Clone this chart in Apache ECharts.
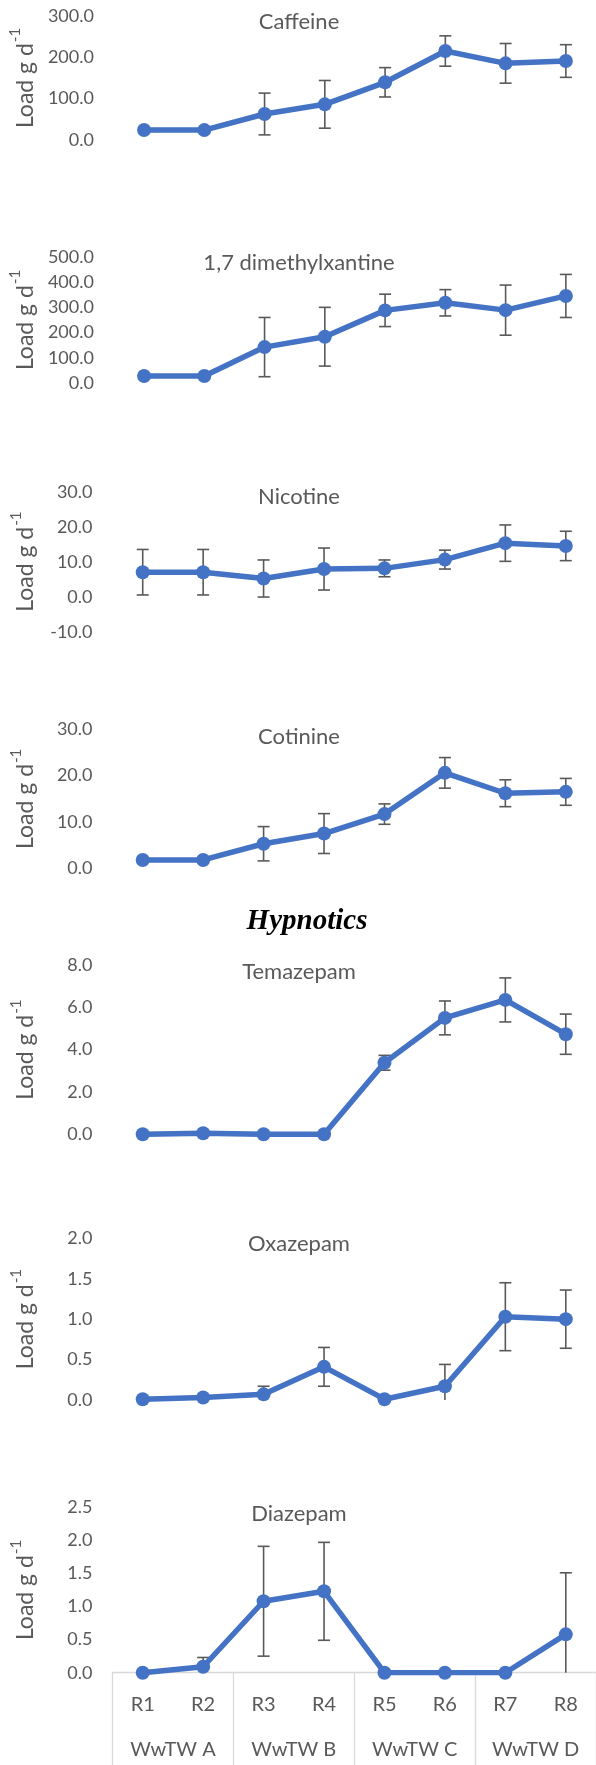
<!DOCTYPE html>
<html>
<head>
<meta charset="utf-8">
<script src="https://cdn.jsdelivr.net/npm/echarts@6/dist/echarts.min.js"></script>
<style>
  html, body { margin: 0; padding: 0; background: #fff; }
  #chart { width: 596px; height: 1765px; }
</style>
</head>
<body>
<div id="chart"></div>
<script>
// Sampling sites and treatment works
const regions = ['R1', 'R2', 'R3', 'R4', 'R5', 'R6', 'R7', 'R8'];
const plants = ['WwTW A', 'WwTW B', 'WwTW C', 'WwTW D'];

// Mean daily loads (g/d) and their error bar half-widths
const caffeine = [24.2, 24.0, 62.9, 86.3, 139.6, 215.3, 185.5, 191.1];
const caffeineErr = [0, 0, 50.5, 57.7, 35.5, 36.7, 48.0, 39.5];

const dimethylxantine = [29, 29, 143, 184, 288, 318, 289, 345];
const dimethylxantineErr = [0, 0, 117, 116, 64, 52, 99, 85];

const nicotine = [7.0, 7.0, 5.2, 7.9, 8.1, 10.6, 15.3, 14.5];
const nicotineErr = [6.5, 6.5, 5.3, 6.0, 2.4, 2.7, 5.2, 4.2];

const cotinine = [1.8, 1.8, 5.3, 7.5, 11.7, 20.6, 16.2, 16.5];
const cotinineErr = [0, 0, 3.7, 4.3, 2.2, 3.3, 2.9, 2.9];

const temazepam = [0.0, 0.05, 0.0, 0.0, 3.38, 5.5, 6.35, 4.73];
const temazepamErr = [0, 0, 0, 0, 0.35, 0.8, 1.04, 0.95];

const oxazepam = [0.01, 0.03, 0.07, 0.41, 0.01, 0.17, 1.03, 1.0];
const oxazepamErr = [0, 0, 0.1, 0.24, 0, 0.27, 0.42, 0.36];

const diazepam = [0, 0.09, 1.08, 1.23, 0, 0, 0, 0.58];
const diazepamErr = [0, 0.14, 0.83, 0.74, 0, 0, 0, 0.93];

// Axis ranges for each compound
const panels = [
  { name: 'Caffeine', mean: caffeine, err: caffeineErr, min: 0, max: 300, step: 100 },
  { name: '1,7 dimethylxantine', mean: dimethylxantine, err: dimethylxantineErr, min: 0, max: 500, step: 100 },
  { name: 'Nicotine', mean: nicotine, err: nicotineErr, min: -10, max: 30, step: 10 },
  { name: 'Cotinine', mean: cotinine, err: cotinineErr, min: 0, max: 30, step: 10 },
  { name: 'Temazepam', mean: temazepam, err: temazepamErr, min: 0, max: 8, step: 2 },
  { name: 'Oxazepam', mean: oxazepam, err: oxazepamErr, min: 0, max: 2, step: 0.5 },
  { name: 'Diazepam', mean: diazepam, err: diazepamErr, min: 0, max: 2.5, step: 0.5 }
];

// Plot area of each panel: top edge and height in px
const layout = [
  { top: 16, height: 124, titleY: 22 },
  { top: 256.7, height: 126.6, titleY: 263 },
  { top: 491.7, height: 140, titleY: 497 },
  { top: 729.3, height: 139, titleY: 737 },
  { top: 965, height: 169.3, titleY: 972 },
  { top: 1238.3, height: 161.7, titleY: 1244 },
  { top: 1507.3, height: 165.4, titleY: 1514 }
];

const BLUE = '#4472C4';
const TEXT = '#595959';
const FONT = 'Lato, sans-serif';
const PLOT_LEFT = 112.5;
const PLOT_WIDTH = 487;

const grids = [], xAxes = [], yAxes = [], series = [], titles = [];

panels.forEach((p, i) => {
  const L = layout[i];
  const last = i === panels.length - 1;
  grids.push({ left: PLOT_LEFT, width: PLOT_WIDTH, top: L.top, height: L.height });

  titles.push({
    text: p.name,
    left: 299,
    textAlign: 'center',
    top: L.titleY - 13,
    padding: 0,
    textStyle: { fontFamily: FONT, fontSize: 22, fontWeight: 'normal', color: TEXT, lineHeight: 26 }
  });

  xAxes.push({
    type: 'category',
    gridIndex: i,
    data: regions,
    boundaryGap: true,
    show: last,
    axisLine: { show: last, lineStyle: { color: '#d9d9d9', width: 1.3 } },
    axisTick: { show: false },
    axisLabel: { show: last, color: TEXT, fontFamily: FONT, fontSize: 20, margin: 22, interval: 0 },
    splitLine: { show: false }
  });

  yAxes.push({
    type: 'value',
    gridIndex: i,
    min: p.min,
    max: p.max,
    interval: p.step,
    axisLine: { show: false },
    axisTick: { show: false },
    splitLine: { show: false },
    axisLabel: {
      color: TEXT, fontFamily: FONT, fontSize: 18, margin: 20,
      formatter: v => v.toFixed(1)
    },
    name: '{a|Load g d}{s|-1}',
    nameLocation: 'middle',
    nameRotate: 90,
    nameGap: 75,
    nameTextStyle: {
      rich: {
        a: { fontFamily: FONT, fontSize: 23, color: TEXT, lineHeight: 29, verticalAlign: 'bottom' },
        s: { fontFamily: FONT, fontSize: 15, color: TEXT, lineHeight: 29, verticalAlign: 'top', padding: [0, 0, 8, 1] }
      }
    }
  });

  // error bars, clipped to the visible value range
  series.push({
    type: 'custom',
    xAxisIndex: i,
    yAxisIndex: i,
    z: 2,
    silent: true,
    data: p.mean.map((m, k) => [k, m, p.err[k]]),
    encode: { x: 0, y: 1 },
    renderItem: (params, api) => {
      const k = api.value(0), m = api.value(1), e = api.value(2);
      if (!e) return null;
      const hiV = m + e, loV = m - e;
      const hi = api.coord([k, Math.min(hiV, p.max)]);
      const lo = api.coord([k, Math.max(loV, p.min)]);
      const cap = 6;
      const style = { stroke: TEXT, lineWidth: 1.6 };
      const children = [{ type: 'line', shape: { x1: hi[0], y1: hi[1], x2: lo[0], y2: lo[1] }, style }];
      if (hiV <= p.max) children.push({ type: 'line', shape: { x1: hi[0] - cap, y1: hi[1], x2: hi[0] + cap, y2: hi[1] }, style });
      if (loV >= p.min) children.push({ type: 'line', shape: { x1: lo[0] - cap, y1: lo[1], x2: lo[0] + cap, y2: lo[1] }, style });
      return { type: 'group', children };
    }
  });

  series.push({
    type: 'line',
    name: p.name,
    xAxisIndex: i,
    yAxisIndex: i,
    z: 3,
    data: p.mean,
    symbol: 'circle',
    symbolSize: 14,
    showSymbol: true,
    lineStyle: { color: BLUE, width: 5.5 },
    itemStyle: { color: BLUE },
    silent: true,
    animation: false
  });
});

// Treatment-works level of the category axis, with group dividers
xAxes.push({
  type: 'category',
  gridIndex: panels.length - 1,
  position: 'bottom',
  data: plants,
  boundaryGap: true,
  axisLine: { show: false },
  axisTick: { show: true, length: 95, lineStyle: { color: '#d9d9d9', width: 1.3 } },
  axisLabel: { color: TEXT, fontFamily: FONT, fontSize: 20, margin: 67, interval: 0 },
  splitLine: { show: false }
});

// Section heading
titles.push({
  text: 'Hypnotics',
  left: 307,
  textAlign: 'center',
  top: 905,
  padding: 0,
  textStyle: { fontFamily: '"Liberation Serif", "Times New Roman", serif', fontSize: 29, fontWeight: 'bold', fontStyle: 'italic', color: '#000', lineHeight: 33 }
});

const chart = echarts.init(document.getElementById('chart'), null, { renderer: 'canvas' });
chart.setOption({
  animation: false,
  backgroundColor: '#fff',
  title: titles,
  grid: grids,
  xAxis: xAxes,
  yAxis: yAxes,
  series: series
});
</script>
</body>
</html>
